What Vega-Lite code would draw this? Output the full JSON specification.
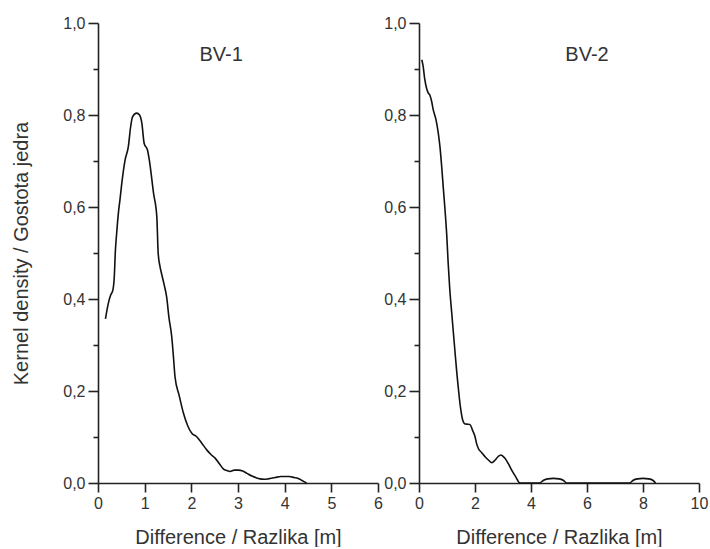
{
  "$schema": "https://vega.github.io/schema/vega-lite/v6.json",
  "background": "white",
  "padding": {"left": 11, "top": 15, "right": 5, "bottom": 0},
  "spacing": 41,
  "bounds": "flush",
  "datasets": {
    "density": [
      {"panel": "BV-1", "x": 0.16, "y": 0.357},
      {"panel": "BV-1", "x": 0.22, "y": 0.39},
      {"panel": "BV-1", "x": 0.27, "y": 0.408},
      {"panel": "BV-1", "x": 0.32, "y": 0.42},
      {"panel": "BV-1", "x": 0.35, "y": 0.45},
      {"panel": "BV-1", "x": 0.37, "y": 0.5},
      {"panel": "BV-1", "x": 0.40, "y": 0.543},
      {"panel": "BV-1", "x": 0.44, "y": 0.59},
      {"panel": "BV-1", "x": 0.47, "y": 0.615},
      {"panel": "BV-1", "x": 0.52, "y": 0.66},
      {"panel": "BV-1", "x": 0.58, "y": 0.702},
      {"panel": "BV-1", "x": 0.65, "y": 0.731},
      {"panel": "BV-1", "x": 0.70, "y": 0.775},
      {"panel": "BV-1", "x": 0.74, "y": 0.796},
      {"panel": "BV-1", "x": 0.83, "y": 0.804},
      {"panel": "BV-1", "x": 0.89, "y": 0.80},
      {"panel": "BV-1", "x": 0.94, "y": 0.782},
      {"panel": "BV-1", "x": 0.99, "y": 0.738},
      {"panel": "BV-1", "x": 1.06, "y": 0.724},
      {"panel": "BV-1", "x": 1.10, "y": 0.702},
      {"panel": "BV-1", "x": 1.19, "y": 0.63},
      {"panel": "BV-1", "x": 1.26, "y": 0.579},
      {"panel": "BV-1", "x": 1.29, "y": 0.499},
      {"panel": "BV-1", "x": 1.33, "y": 0.47},
      {"panel": "BV-1", "x": 1.36, "y": 0.456},
      {"panel": "BV-1", "x": 1.42, "y": 0.43},
      {"panel": "BV-1", "x": 1.47, "y": 0.405},
      {"panel": "BV-1", "x": 1.52, "y": 0.36},
      {"panel": "BV-1", "x": 1.58, "y": 0.318},
      {"panel": "BV-1", "x": 1.62, "y": 0.27},
      {"panel": "BV-1", "x": 1.65, "y": 0.231},
      {"panel": "BV-1", "x": 1.74, "y": 0.19},
      {"panel": "BV-1", "x": 1.83, "y": 0.152},
      {"panel": "BV-1", "x": 1.92, "y": 0.125},
      {"panel": "BV-1", "x": 2.01, "y": 0.108},
      {"panel": "BV-1", "x": 2.11, "y": 0.101},
      {"panel": "BV-1", "x": 2.22, "y": 0.087},
      {"panel": "BV-1", "x": 2.33, "y": 0.072},
      {"panel": "BV-1", "x": 2.42, "y": 0.062},
      {"panel": "BV-1", "x": 2.51, "y": 0.054},
      {"panel": "BV-1", "x": 2.60, "y": 0.042},
      {"panel": "BV-1", "x": 2.69, "y": 0.030},
      {"panel": "BV-1", "x": 2.76, "y": 0.027},
      {"panel": "BV-1", "x": 2.83, "y": 0.025},
      {"panel": "BV-1", "x": 2.92, "y": 0.028},
      {"panel": "BV-1", "x": 3.01, "y": 0.028},
      {"panel": "BV-1", "x": 3.10, "y": 0.026},
      {"panel": "BV-1", "x": 3.19, "y": 0.021},
      {"panel": "BV-1", "x": 3.30, "y": 0.015},
      {"panel": "BV-1", "x": 3.40, "y": 0.011},
      {"panel": "BV-1", "x": 3.47, "y": 0.009},
      {"panel": "BV-1", "x": 3.56, "y": 0.008},
      {"panel": "BV-1", "x": 3.65, "y": 0.009},
      {"panel": "BV-1", "x": 3.80, "y": 0.012},
      {"panel": "BV-1", "x": 3.92, "y": 0.014},
      {"panel": "BV-1", "x": 4.00, "y": 0.014},
      {"panel": "BV-1", "x": 4.10, "y": 0.014},
      {"panel": "BV-1", "x": 4.20, "y": 0.012},
      {"panel": "BV-1", "x": 4.29, "y": 0.010},
      {"panel": "BV-1", "x": 4.38, "y": 0.005},
      {"panel": "BV-1", "x": 4.47, "y": 0.0},
      {"panel": "BV-2", "x": 0.10, "y": 0.92},
      {"panel": "BV-2", "x": 0.15, "y": 0.905},
      {"panel": "BV-2", "x": 0.20, "y": 0.88},
      {"panel": "BV-2", "x": 0.27, "y": 0.858},
      {"panel": "BV-2", "x": 0.33, "y": 0.848},
      {"panel": "BV-2", "x": 0.39, "y": 0.843},
      {"panel": "BV-2", "x": 0.45, "y": 0.83},
      {"panel": "BV-2", "x": 0.51, "y": 0.811},
      {"panel": "BV-2", "x": 0.61, "y": 0.789},
      {"panel": "BV-2", "x": 0.69, "y": 0.760},
      {"panel": "BV-2", "x": 0.75, "y": 0.73},
      {"panel": "BV-2", "x": 0.81, "y": 0.688},
      {"panel": "BV-2", "x": 0.87, "y": 0.64},
      {"panel": "BV-2", "x": 0.93, "y": 0.593},
      {"panel": "BV-2", "x": 0.99, "y": 0.54},
      {"panel": "BV-2", "x": 1.04, "y": 0.48},
      {"panel": "BV-2", "x": 1.10, "y": 0.42},
      {"panel": "BV-2", "x": 1.17, "y": 0.369},
      {"panel": "BV-2", "x": 1.23, "y": 0.325},
      {"panel": "BV-2", "x": 1.29, "y": 0.282},
      {"panel": "BV-2", "x": 1.35, "y": 0.24},
      {"panel": "BV-2", "x": 1.40, "y": 0.209},
      {"panel": "BV-2", "x": 1.48, "y": 0.165},
      {"panel": "BV-2", "x": 1.56, "y": 0.137},
      {"panel": "BV-2", "x": 1.63, "y": 0.129},
      {"panel": "BV-2", "x": 1.70, "y": 0.128},
      {"panel": "BV-2", "x": 1.82, "y": 0.127},
      {"panel": "BV-2", "x": 1.91, "y": 0.115},
      {"panel": "BV-2", "x": 2.00, "y": 0.101},
      {"panel": "BV-2", "x": 2.06, "y": 0.085},
      {"panel": "BV-2", "x": 2.12, "y": 0.075},
      {"panel": "BV-2", "x": 2.24, "y": 0.066},
      {"panel": "BV-2", "x": 2.36, "y": 0.057},
      {"panel": "BV-2", "x": 2.48, "y": 0.05},
      {"panel": "BV-2", "x": 2.60, "y": 0.044},
      {"panel": "BV-2", "x": 2.72, "y": 0.05},
      {"panel": "BV-2", "x": 2.82, "y": 0.057},
      {"panel": "BV-2", "x": 2.92, "y": 0.061},
      {"panel": "BV-2", "x": 3.00, "y": 0.058},
      {"panel": "BV-2", "x": 3.07, "y": 0.054},
      {"panel": "BV-2", "x": 3.19, "y": 0.042},
      {"panel": "BV-2", "x": 3.31, "y": 0.028},
      {"panel": "BV-2", "x": 3.45, "y": 0.014},
      {"panel": "BV-2", "x": 3.61, "y": 0.0},
      {"panel": "BV-2", "x": 4.30, "y": 0.0},
      {"panel": "BV-2", "x": 4.45, "y": 0.006},
      {"panel": "BV-2", "x": 4.60, "y": 0.009},
      {"panel": "BV-2", "x": 4.80, "y": 0.01},
      {"panel": "BV-2", "x": 5.00, "y": 0.009},
      {"panel": "BV-2", "x": 5.15, "y": 0.006},
      {"panel": "BV-2", "x": 5.28, "y": 0.0},
      {"panel": "BV-2", "x": 7.52, "y": 0.0},
      {"panel": "BV-2", "x": 7.65, "y": 0.006},
      {"panel": "BV-2", "x": 7.80, "y": 0.009},
      {"panel": "BV-2", "x": 8.00, "y": 0.01},
      {"panel": "BV-2", "x": 8.20, "y": 0.009},
      {"panel": "BV-2", "x": 8.35, "y": 0.006},
      {"panel": "BV-2", "x": 8.45, "y": 0.0}
    ],
    "labels1": [{"label": "BV-1"}],
    "labels2": [{"label": "BV-2"}]
  },
  "hconcat": [
    {
      "width": 280,
      "height": 460,
      "layer": [
        {
          "data": {"name": "density"},
          "transform": [{"filter": "datum.panel === 'BV-1'"}],
          "mark": {"type": "line", "color": "#111111", "strokeWidth": 1.6, "interpolate": "monotone"},
          "encoding": {
            "x": {
              "field": "x", "type": "quantitative",
              "scale": {"domain": [0, 6], "nice": false},
              "axis": {
                "values": [0, 0.5, 1, 1.5, 2, 2.5, 3, 3.5, 4, 4.5, 5, 5.5, 6],
                "labelExpr": "datum.value % 1 == 0 ? format(datum.value, 'd') : ''",
                "tickSize": {"condition": {"test": "datum.value % 1 == 0", "value": 9}, "value": 5},
                "title": "Difference / Razlika [m]"
              }
            },
            "y": {
              "field": "y", "type": "quantitative",
              "scale": {"domain": [0, 1], "nice": false},
              "axis": {
                "values": [0, 0.1, 0.2, 0.3, 0.4, 0.5, 0.6, 0.7, 0.8, 0.9, 1.0],
                "labelExpr": "round(datum.value * 10) % 2 == 0 ? replace(format(datum.value, '.1f'), '.', ',') : ''",
                "tickSize": {"condition": {"test": "round(datum.value * 10) % 2 == 0", "value": 10}, "value": 5},
                "title": "Kernel density / Gostota jedra",
                "titlePadding": 31,
                "titleFontSize": 20
              }
            }
          }
        },
        {
          "data": {"name": "labels1"},
          "mark": {"type": "text", "fontSize": 20, "color": "#333333", "font": "Liberation Sans"},
          "encoding": {
            "x": {"datum": 2.64, "type": "quantitative"},
            "y": {"datum": 0.93, "type": "quantitative"},
            "text": {"field": "label", "type": "nominal"}
          }
        }
      ]
    },
    {
      "width": 280,
      "height": 460,
      "layer": [
        {
          "data": {"name": "density"},
          "transform": [{"filter": "datum.panel === 'BV-2'"}],
          "mark": {"type": "line", "color": "#111111", "strokeWidth": 1.6, "interpolate": "monotone"},
          "encoding": {
            "x": {
              "field": "x", "type": "quantitative",
              "scale": {"domain": [0, 10], "nice": false},
              "axis": {
                "values": [0, 1, 2, 3, 4, 5, 6, 7, 8, 9, 10],
                "labelExpr": "datum.value % 2 == 0 ? format(datum.value, 'd') : ''",
                "tickSize": {"condition": {"test": "datum.value % 2 == 0", "value": 9}, "value": 5},
                "title": "Difference / Razlika [m]"
              }
            },
            "y": {
              "field": "y", "type": "quantitative",
              "scale": {"domain": [0, 1], "nice": false},
              "axis": {
                "values": [0, 0.1, 0.2, 0.3, 0.4, 0.5, 0.6, 0.7, 0.8, 0.9, 1.0],
                "labelExpr": "round(datum.value * 10) % 2 == 0 ? replace(format(datum.value, '.1f'), '.', ',') : ''",
                "tickSize": {"condition": {"test": "round(datum.value * 10) % 2 == 0", "value": 10}, "value": 5},
                "title": null
              }
            }
          }
        },
        {
          "data": {"name": "labels2"},
          "mark": {"type": "text", "fontSize": 20, "color": "#333333", "font": "Liberation Sans"},
          "encoding": {
            "x": {"datum": 6.0, "type": "quantitative"},
            "y": {"datum": 0.93, "type": "quantitative"},
            "text": {"field": "label", "type": "nominal"}
          }
        }
      ]
    }
  ],
  "config": {
    "view": {"stroke": null},
    "font": "Liberation Sans",
    "axis": {
      "grid": false,
      "domainColor": "#222222",
      "domainWidth": 1.6,
      "tickColor": "#222222",
      "tickWidth": 1.6,
      "labelColor": "#333333",
      "labelFont": "Liberation Sans",
      "labelFontSize": 16,
      "labelPadding": 3,
      "labelOverlap": false,
      "labelFlush": false,
      "titleColor": "#333333",
      "titleFont": "Liberation Sans",
      "titleFontWeight": "normal",
      "titleFontSize": 20,
      "titlePadding": 16
    }
  }
}
